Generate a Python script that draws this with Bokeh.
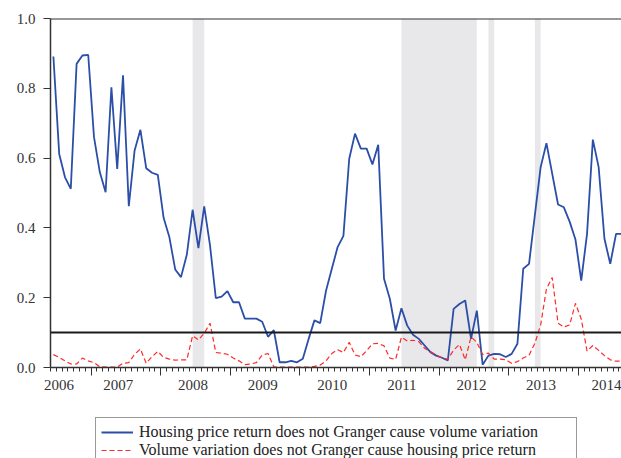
from bokeh.plotting import figure
from bokeh.layouts import column
from bokeh.models import (LinearAxis, FixedTicker, Legend, LegendItem, BoxAnnotation,
                          Span, Range1d, NumeralTickFormatter)
from bokeh.embed import file_html
from bokeh.resources import INLINE

# ---------------- data ----------------
start_year, start_month = 2006, 6   # first observation: June 2006 (monthly)

price_to_volume = [0.891, 0.612, 0.545, 0.512, 0.870, 0.894, 0.896, 0.660, 0.560, 0.502,
                   0.803, 0.569, 0.837, 0.462, 0.622, 0.681, 0.571, 0.558, 0.552, 0.429,
                   0.373, 0.281, 0.259, 0.323, 0.452, 0.342, 0.462, 0.350, 0.199, 0.203,
                   0.219, 0.187, 0.187, 0.140, 0.140, 0.140, 0.131, 0.088, 0.107, 0.015,
                   0.015, 0.019, 0.015, 0.025, 0.082, 0.135, 0.127, 0.220, 0.283, 0.345,
                   0.377, 0.598, 0.670, 0.627, 0.627, 0.582, 0.638, 0.254, 0.197, 0.106,
                   0.170, 0.120, 0.094, 0.082, 0.063, 0.044, 0.034, 0.028, 0.020, 0.168,
                   0.182, 0.192, 0.082, 0.163, 0.008, 0.034, 0.039, 0.038, 0.030, 0.039,
                   0.068, 0.283, 0.297, 0.436, 0.574, 0.643, 0.555, 0.467, 0.459, 0.418,
                   0.367, 0.249, 0.383, 0.653, 0.574, 0.369, 0.297, 0.383, 0.383]

volume_to_price = [0.037, 0.029, 0.019, 0.010, 0.010, 0.027, 0.019, 0.014, 0.002, 0.001,
                   0.001, 0.001, 0.012, 0.014, 0.038, 0.053, 0.012, 0.031, 0.046, 0.029,
                   0.024, 0.021, 0.022, 0.022, 0.091, 0.079, 0.098, 0.127, 0.043, 0.041,
                   0.038, 0.027, 0.019, 0.008, 0.010, 0.014, 0.036, 0.040, 0.002, 0.001,
                   0.001, 0.001, 0.001, 0.001, 0.001, 0.003, 0.007, 0.019, 0.040, 0.051,
                   0.043, 0.072, 0.036, 0.031, 0.048, 0.068, 0.069, 0.062, 0.027, 0.023,
                   0.087, 0.076, 0.078, 0.074, 0.055, 0.045, 0.036, 0.027, 0.024, 0.050,
                   0.066, 0.022, 0.088, 0.072, 0.037, 0.041, 0.024, 0.024, 0.022, 0.012,
                   0.017, 0.027, 0.035, 0.069, 0.122, 0.225, 0.258, 0.127, 0.116, 0.122,
                   0.184, 0.139, 0.047, 0.063, 0.049, 0.034, 0.022, 0.018, 0.018]

shaded_periods = [("2008-06", "2008-08"), ("2011-06", "2012-07"),
                  ("2012-09", "2012-10"), ("2013-05", "2013-06")]

threshold = 0.1
year_labels = ["2006", "2007", "2008", "2009", "2010", "2011", "2012", "2013", "2014"]
y_ticks = [0.0, 0.2, 0.4, 0.6, 0.8, 1.0]
series_names = ["Housing price return does not Granger cause volume variation",
                "Volume variation does not Granger cause housing price return"]

# ---------------- helpers ----------------
def month_x(year, month):
    return year + (month - 0.5) / 12.0

def parse(ym):
    y, m = ym.split("-")
    return month_x(int(y), int(m))

xs = []
for k in range(len(price_to_volume)):
    mm = start_month - 1 + k
    xs.append(month_x(start_year + mm // 12, mm % 12 + 1))

FONT = "Liberation Serif"
TXT = "#333333"
BLUE = "#2B4EA8"
RED = "#FF2A2A"

x_start = start_year + (start_month - 1) / 12.0
x_end = 2014.62

p = figure(width=621, height=400, output_backend="svg", toolbar_location=None,
           x_range=Range1d(x_start, x_end), y_range=Range1d(0, 1),
           x_axis_type=None, min_border_left=50, min_border_right=0,
           min_border_top=18, min_border_bottom=33)
p.outline_line_color = None
p.ygrid.visible = False
p.background_fill_color = "white"
p.border_fill_color = "white"

for a, b in shaded_periods:
    p.add_layout(BoxAnnotation(left=parse(a), right=parse(b), fill_color="#E8E8EA",
                               fill_alpha=1.0, line_color=None, level="underlay"))

p.add_layout(Span(location=threshold, dimension="width", line_color="#1a1a1a",
                  line_width=2))
# top border of the frame
p.add_layout(Span(location=1.0, dimension="width", line_color="#333333",
                  line_width=2))

r1 = p.line(xs, price_to_volume, line_color=BLUE, line_width=1.8)
r2 = p.line(xs, volume_to_price, line_color=RED, line_width=1.2, line_dash="5 3")

# y axis
ya = p.yaxis[0]
ya.ticker = FixedTicker(ticks=y_ticks)
ya.formatter = NumeralTickFormatter(format="0.0")
ya.major_tick_out = 7
ya.major_tick_in = 0
ya.minor_tick_line_color = None
ya.axis_line_color = "#333333"
ya.axis_line_width = 1.5
ya.major_tick_line_color = "#333333"
ya.major_label_standoff = 8
ya.major_label_text_font = FONT
ya.major_label_text_font_size = "15px"
ya.major_label_text_color = TXT

# x axis: tick marks
major_years = list(range(2007, 2015))
minor_months = [y + m / 12.0 for y in range(2006, 2015) for m in range(12)]
xa = LinearAxis(ticker=FixedTicker(ticks=major_years, minor_ticks=minor_months),
                major_tick_out=8, major_tick_in=0, minor_tick_out=4, minor_tick_in=0,
                axis_line_color="#333333", axis_line_width=1.5,
                major_tick_line_color="#333333", minor_tick_line_color="#333333",
                major_label_overrides={y: "" for y in major_years},
                major_label_standoff=0, major_label_text_font_size="2px")
p.add_layout(xa, "below")

# x axis: year labels centred in each year
label_pos = []
for lab in year_labels:
    yv = int(lab)
    off = {2006: 0.54, 2007: 0.39}.get(yv, 0.465)
    label_pos.append(yv + off)
xl = LinearAxis(ticker=FixedTicker(ticks=label_pos),
                major_label_overrides={pos: lab for pos, lab in zip(label_pos, year_labels)},
                axis_line_color=None, major_tick_line_color=None,
                minor_tick_line_color=None, major_tick_out=0, major_tick_in=0,
                major_label_standoff=4, major_label_text_font=FONT,
                major_label_text_font_size="15px", major_label_text_color=TXT)
p.add_layout(xl, "below")

# ---------------- legend (separate strip below the chart) ----------------
lf = figure(width=621, height=58, output_backend="svg", toolbar_location=None,
            x_range=Range1d(0, 1), y_range=Range1d(0, 1),
            x_axis_type=None, y_axis_type=None, min_border=0)
lf.outline_line_color = None
lf.background_fill_color = "white"
lf.border_fill_color = "white"
# same series, drawn outside this strip's visible range: only their legend samples show
l1 = lf.line(xs, price_to_volume, line_color=BLUE, line_width=1.8)
l2 = lf.line(xs, volume_to_price, line_color=RED, line_width=1.2, line_dash="5 3")

legend = Legend(items=[LegendItem(label=series_names[0], renderers=[l1]),
                       LegendItem(label=series_names[1], renderers=[l2])],
                location=(45, -7), orientation="vertical",
                border_line_color="#333333", border_line_width=1,
                background_fill_color="white", background_fill_alpha=1.0,
                label_text_font=FONT, label_text_font_size="16px",
                label_text_color="#222222", glyph_width=32, glyph_height=18,
                label_height=18, label_standoff=6, spacing=0, padding=5,
                margin=0, label_width=432)
lf.add_layout(legend, "center")

open("out.html", "w").write(file_html(column(p, lf, spacing=0), INLINE))
